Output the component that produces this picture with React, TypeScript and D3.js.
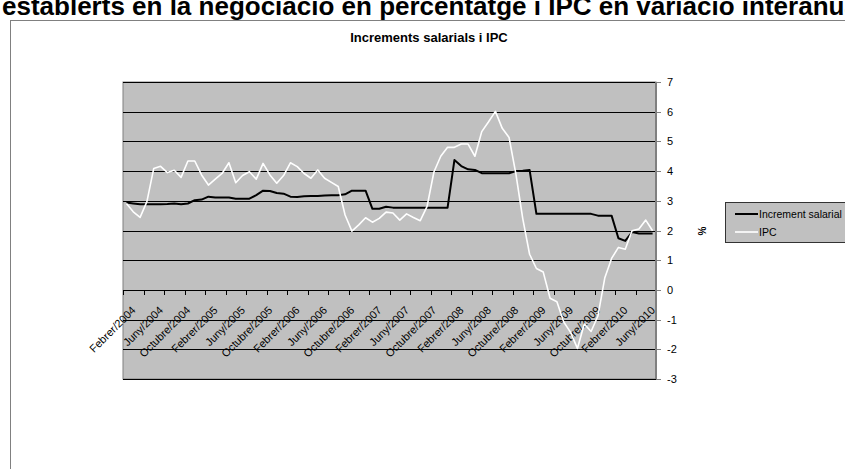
import React from "react";
import * as d3 from "d3";

const categories: string[] = [
  "Febrer/2004","Març/2004","Abril/2004","Maig/2004","Juny/2004","Juliol/2004","Agost/2004","Setembre/2004","Octubre/2004","Novembre/2004","Desembre/2004",
  "Gener/2005","Febrer/2005","Març/2005","Abril/2005","Maig/2005","Juny/2005","Juliol/2005","Agost/2005","Setembre/2005","Octubre/2005","Novembre/2005","Desembre/2005",
  "Gener/2006","Febrer/2006","Març/2006","Abril/2006","Maig/2006","Juny/2006","Juliol/2006","Agost/2006","Setembre/2006","Octubre/2006","Novembre/2006","Desembre/2006",
  "Gener/2007","Febrer/2007","Març/2007","Abril/2007","Maig/2007","Juny/2007","Juliol/2007","Agost/2007","Setembre/2007","Octubre/2007","Novembre/2007","Desembre/2007",
  "Gener/2008","Febrer/2008","Març/2008","Abril/2008","Maig/2008","Juny/2008","Juliol/2008","Agost/2008","Setembre/2008","Octubre/2008","Novembre/2008","Desembre/2008",
  "Gener/2009","Febrer/2009","Març/2009","Abril/2009","Maig/2009","Juny/2009","Juliol/2009","Agost/2009","Setembre/2009","Octubre/2009","Novembre/2009","Desembre/2009",
  "Gener/2010","Febrer/2010","Març/2010","Abril/2010","Maig/2010","Juny/2010","Juliol/2010",
];

const incrementSalarial: number[] = [
  2.94, 2.91, 2.88, 2.88, 2.88, 2.88, 2.89, 2.91, 2.88, 2.91,
  3.02, 3.04, 3.14, 3.11, 3.11, 3.11, 3.07, 3.07, 3.07, 3.19,
  3.34, 3.33, 3.26, 3.24, 3.14, 3.13, 3.15, 3.16, 3.16, 3.18,
  3.19, 3.19, 3.22, 3.34, 3.34, 3.34, 2.73, 2.73, 2.8, 2.77,
  2.77, 2.77, 2.77, 2.77, 2.77, 2.77, 2.77, 2.77, 4.37, 4.17,
  4.06, 4.04, 3.93, 3.93, 3.93, 3.93, 3.93, 4.0, 4.01, 4.04,
  2.56, 2.56, 2.56, 2.56, 2.56, 2.56, 2.56, 2.56, 2.56, 2.5,
  2.5, 2.5, 1.74, 1.65, 1.95, 1.9, 1.9, 1.9,
];

const ipc: number[] = [
  2.91, 2.63, 2.44, 2.97, 4.09, 4.16, 3.95, 4.03, 3.79, 4.34,
  4.34, 3.87, 3.53, 3.73, 3.92, 4.28, 3.61, 3.85, 3.98, 3.73,
  4.26, 3.87, 3.59, 3.85, 4.28, 4.15, 3.92, 3.76, 4.04, 3.76,
  3.62, 3.48, 2.52, 1.98, 2.19, 2.43, 2.28, 2.41, 2.62, 2.59,
  2.35, 2.56, 2.44, 2.33, 2.81, 3.97, 4.5, 4.8, 4.8, 4.91,
  4.91, 4.5, 5.33, 5.66, 6.01, 5.44, 5.13, 3.9, 2.4, 1.2,
  0.72, 0.6, -0.28, -0.4, -1.08, -1.43, -1.97, -1.15, -1.4, -0.88,
  0.4, 1.06, 1.43, 1.37, 1.99, 2.05, 2.35, 1.99,
];

const yTicks: number[] = [-3, -2, -1, 0, 1, 2, 3, 4, 5, 6, 7];
const seriesNames: string[] = ["Increment salarial", "IPC"];
const chartTitle = "Increments salarials i IPC";
const heading = "establerts en la negociació en percentatge i IPC en variació interanual";
const labelEvery = 4;
const tickEvery = 3;

export default function App() {
  const W = 845, H = 469;
  const left = 123, right = 656, top = 82, bottom = 379;
  const x = d3.scaleBand<number>().domain(d3.range(categories.length)).range([left, right]).padding(0);
  const bw = x.bandwidth();
  const cx = (i: number) => (x(i) as number) + bw / 2;
  const y = d3.scaleLinear().domain([-3, 7]).range([bottom, top]);
  const line = d3.line<number>().x((_, i) => cx(i)).y((d) => y(d));
  const y0 = y(0);
  const tickIdx = d3.range(0, categories.length + 1, tickEvery);
  const font = "'Liberation Sans', Arial, sans-serif";

  return (
    <svg width={W} height={H} style={{ position: "fixed", left: 0, top: 0, background: "#fff" }} fontFamily={font}>
      <text x={2} y={15} fontSize={26} fontWeight="bold" fill="#000">{heading}</text>
      <rect x={10.5} y={20.5} width={W + 20} height={H + 20} fill="#fff" stroke="#808080" strokeWidth={1} />
      <text x={429} y={42} fontSize={13} fontWeight="bold" textAnchor="middle">{chartTitle}</text>
      <rect x={left} y={top} width={right - left} height={bottom - top} fill="#C0C0C0" stroke="#808080" strokeWidth={1} />
      {yTicks.map((t) => (
        <line key={"g" + t} x1={left} x2={right} y1={Math.round(y(t)) + 0.5} y2={Math.round(y(t)) + 0.5} stroke="#000" strokeWidth={1} />
      ))}
      <line x1={left} x2={right} y1={Math.round(y0) + 0.5} y2={Math.round(y0) + 0.5} stroke="#000" strokeWidth={1} />
      {tickIdx.map((k) => {
        const xx = Math.round(left + k * bw) + 0.5;
        return <line key={"xt" + k} x1={xx} x2={xx} y1={Math.round(y0)} y2={Math.round(y0) + 5} stroke="#000" strokeWidth={1} />;
      })}
      {categories.map((c, i) =>
        i % labelEvery === 0 ? (
          <text key={"xl" + i} transform={`translate(${cx(i) + 10},${y0 + 21}) rotate(-45)`} textAnchor="end" fontSize={11} fill="#000">{c}</text>
        ) : null
      )}
      <line x1={right} x2={right} y1={top} y2={bottom} stroke="#808080" strokeWidth={2} />
      {yTicks.map((t) => (
        <g key={"yt" + t}>
          <line x1={right} x2={right + 5} y1={Math.round(y(t)) + 0.5} y2={Math.round(y(t)) + 0.5} stroke="#808080" strokeWidth={1} />
          <text x={667} y={y(t) + 4} fontSize={11} fill="#000">{t}</text>
        </g>
      ))}
      <text transform={`translate(706,231) rotate(-90)`} textAnchor="middle" fontSize={10} fontWeight="bold">%</text>
      <path d={line(incrementSalarial) || ""} fill="none" stroke="#000" strokeWidth={2} strokeLinejoin="round" />
      <path d={line(ipc) || ""} fill="none" stroke="#fff" strokeWidth={1.6} strokeLinejoin="round" />
      <rect x={725.5} y={202.5} width={140} height={40} fill="#C0C0C0" stroke="#333" strokeWidth={1} />
      <line x1={735} x2={758} y1={214} y2={214} stroke="#000" strokeWidth={2} />
      <text x={759} y={217.5} fontSize={10.5}>{seriesNames[0]}</text>
      <line x1={735} x2={758} y1={232} y2={232} stroke="#fff" strokeWidth={1.6} />
      <text x={759} y={235.5} fontSize={10.5}>{seriesNames[1]}</text>
    </svg>
  );
}
